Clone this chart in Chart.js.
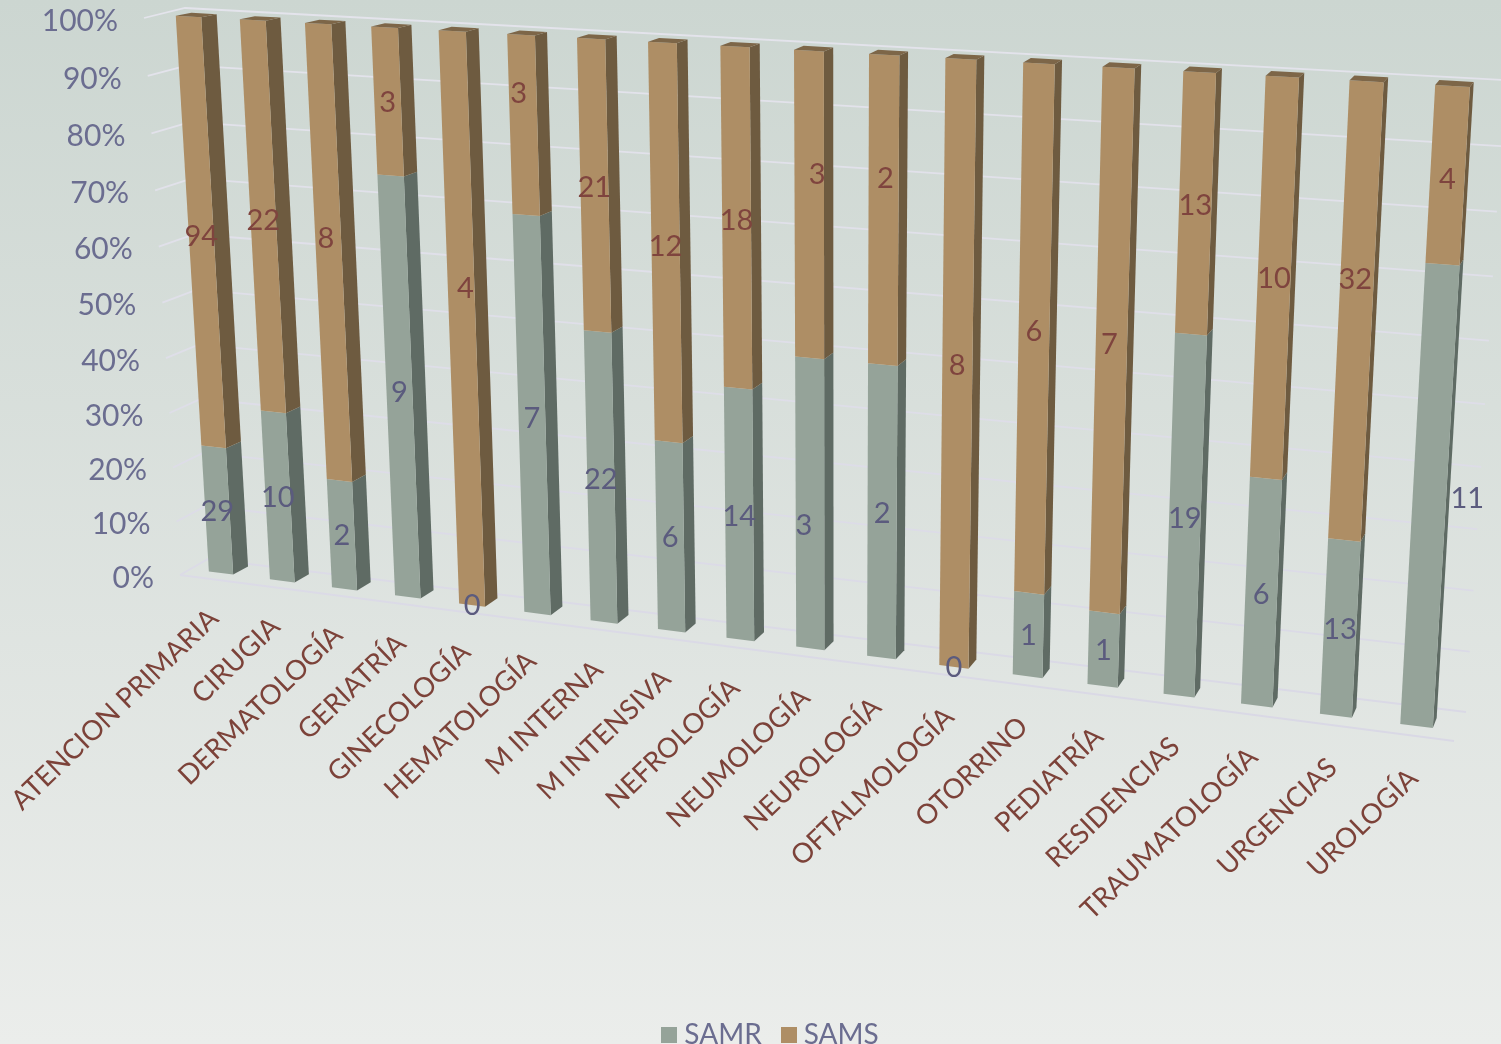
<!DOCTYPE html>
<html>
<head>
<meta charset="utf-8">
<style>
    html, body { margin: 0; padding: 0; background: #e8ebe9; }
    canvas { display: block; }
</style>
<script src="https://cdn.jsdelivr.net/npm/chart.js@4"></script>
</head>
<body>
<canvas id="canvas" width="1501" height="1044"></canvas>
<script>
const categories = ['ATENCION PRIMARIA', 'CIRUGIA', 'DERMATOLOGÍA', 'GERIATRÍA', 'GINECOLOGÍA', 'HEMATOLOGÍA',
    'M INTERNA', 'M INTENSIVA', 'NEFROLOGÍA', 'NEUMOLOGÍA', 'NEUROLOGÍA', 'OFTALMOLOGÍA',
    'OTORRINO', 'PEDIATRÍA', 'RESIDENCIAS', 'TRAUMATOLOGÍA', 'URGENCIAS', 'UROLOGÍA'];
const samr = [29, 10, 2, 9, 0, 7, 22, 6, 14, 3, 2, 0, 1, 1, 19, 6, 13, 11];
const sams = [94, 22, 8, 3, 4, 3, 21, 12, 18, 3, 2, 8, 6, 7, 13, 10, 32, 4];

// share of each bar, the chart is a 100% stack
const samrPct = samr.map((v, i) => v / (v + sams[i]) * 100);
const samsPct = sams.map((v, i) => v / (v + samr[i]) * 100);

const fontName = 'Lato';
const axisColor = '#6b6d90';
const catColor = '#7c4239';
const faces = [
    { front: '#95a399', side: '#5f6b64', top: '#6f7c74', label: '#5b5b7e' },
    { front: '#ae8e65', side: '#6e5b40', top: '#7d6648', label: '#7f443e' }
];

// corners of the projected planes: top left, top right, bottom right, bottom left
const frontPlane = [[188.5, 16.5], [1452.5, 86], [1416.5, 726], [221, 573]];
const rearPlane = [[204, 13.5], [1456.5, 81], [1420.5, 716], [236, 565]];
const backWall = [[185, 8], [1505, 80], [1466, 712], [208, 559]];
const axisEdge = [[144, 18], [180, 575]];
const floorFront = [[180, 575], [1454, 741]];

// value labels that were dragged away from the segment centre in the original
const labelMoves = [
    { 3: [0, 1], 9: [-6, 20], 17: [38, -3] },
    { 2: [-3, -19], 4: [3, -38], 5: [-5, -33], 9: [8, -33], 10: [2, -34], 11: [0, -7], 12: [0, -4], 13: [-2, -3], 15: [0, -4], 16: [0, -37], 17: [0, 3] }
];

function quadMap(q) {
    const [p0, p1, p2, p3] = q;
    const dx1 = p1[0] - p2[0], dx2 = p3[0] - p2[0], sx = p0[0] - p1[0] + p2[0] - p3[0];
    const dy1 = p1[1] - p2[1], dy2 = p3[1] - p2[1], sy = p0[1] - p1[1] + p2[1] - p3[1];
    const den = dx1 * dy2 - dx2 * dy1;
    const g = (sx * dy2 - dx2 * sy) / den;
    const h = (dx1 * sy - sx * dy1) / den;
    const a = p1[0] - p0[0] + g * p1[0], b = p3[0] - p0[0] + h * p3[0];
    const d = p1[1] - p0[1] + g * p1[1], e = p3[1] - p0[1] + h * p3[1];
    return (u, v) => {
        const w = g * u + h * v + 1;
        return [(a * u + b * v + p0[0]) / w, (d * u + e * v + p0[1]) / w];
    };
}

const toFront = quadMap(frontPlane);
const toRear = quadMap(rearPlane);
const toBack = quadMap(backWall);

// the axis edge follows the same height steps as the left side of the back wall
function toEdge(v) {
    const f = (toBack(0, v)[1] - backWall[0][1]) / (backWall[3][1] - backWall[0][1]);
    return [axisEdge[0][0] + (axisEdge[1][0] - axisEdge[0][0]) * f,
        axisEdge[0][1] + (axisEdge[1][1] - axisEdge[0][1]) * f];
}

function fillPoly(ctx, pts, color) {
    ctx.beginPath();
    pts.forEach((p, i) => i ? ctx.lineTo(p[0], p[1]) : ctx.moveTo(p[0], p[1]));
    ctx.closePath();
    ctx.fillStyle = color;
    ctx.fill();
}

// legend swatch, used as point style so the text sits close to it
function swatch(color) {
    const c = document.createElement('canvas');
    c.width = 16;
    c.height = 16;
    const g = c.getContext('2d');
    g.fillStyle = color;
    g.fillRect(0, 0, 16, 16);
    return c;
}

const perspective = {
    id: 'perspective',
    beforeDraw(chart) {
        const ctx = chart.ctx;
        const grad = ctx.createLinearGradient(0, 0, 0, chart.height);
        grad.addColorStop(0, '#ccd6d1');
        grad.addColorStop(1, '#ebedeb');
        ctx.fillStyle = grad;
        ctx.fillRect(0, 0, chart.width, chart.height);
    },
    beforeDatasetsDraw(chart) {
        const ctx = chart.ctx;
        const xs = chart.scales.x, ys = chart.scales.y;
        const x0 = xs.getPixelForValue(0), x1 = xs.getPixelForValue(categories.length - 1);
        const y100 = ys.getPixelForValue(100), y0 = ys.getPixelForValue(0);
        const U = x => (x - x0) / (x1 - x0);
        const V = y => (y - y100) / (y0 - y100);

        // walls
        const lineGrad = ctx.createLinearGradient(0, 0, 0, 750);
        lineGrad.addColorStop(0, '#e4e4ec');
        lineGrad.addColorStop(1, '#d9d8e5');
        ctx.save();
        ctx.strokeStyle = lineGrad;
        ctx.lineWidth = 1.8;
        ys.ticks.forEach(t => {
            const v = V(ys.getPixelForValue(t.value));
            const a = toEdge(v), b = toBack(0, v), c = toBack(1, v);
            ctx.beginPath();
            ctx.moveTo(a[0], a[1]);
            ctx.lineTo(b[0], b[1]);
            ctx.lineTo(c[0], c[1]);
            ctx.stroke();
        });
        ctx.beginPath();
        ctx.moveTo(floorFront[0][0], floorFront[0][1]);
        ctx.lineTo(floorFront[1][0], floorFront[1][1]);
        ctx.stroke();
        ctx.restore();

        // bars, side then front so the shared edge stays clean
        categories.forEach((c, i) => {
            chart.data.datasets.forEach((ds, d) => {
                const el = chart.getDatasetMeta(d).data[i];
                if (!ds.data[i]) return;
                const l = U(el.x - el.width / 2), r = U(el.x + el.width / 2);
                const t = V(el.y), b = V(el.base);
                fillPoly(ctx, [toFront(r, t), toRear(r, t), toRear(r, b), toFront(r, b)], faces[d].side);
                fillPoly(ctx, [toFront(l, t), toFront(r, t), toFront(r, b), toFront(l, b)], faces[d].front);
                if (el.y <= y100 + 0.5) {
                    fillPoly(ctx, [toFront(l, t), toFront(r, t), toRear(r, t), toRear(l, t)], faces[d].top);
                }
            });
        });

        // value labels in the middle of every segment
        ctx.save();
        ctx.font = '29px ' + fontName;
        ctx.textAlign = 'center';
        ctx.textBaseline = 'middle';
        chart.data.datasets.forEach((ds, d) => {
            chart.getDatasetMeta(d).data.forEach((el, i) => {
                const p = toFront(U(el.x), V((el.y + el.base) / 2));
                const move = labelMoves[d][i] || [0, 0];
                ctx.fillStyle = faces[d].label;
                ctx.fillText(ds.counts[i], p[0] + move[0], p[1] + move[1] + 1);
            });
        });
        ctx.restore();

        // value axis labels along the axis edge
        ctx.save();
        ctx.font = '30px ' + fontName;
        ctx.fillStyle = axisColor;
        ctx.textAlign = 'right';
        ctx.textBaseline = 'middle';
        ys.ticks.forEach(t => {
            const p = toEdge(V(ys.getPixelForValue(t.value)));
            ctx.fillText(t.label, p[0] - 26, p[1] + 3);
        });
        ctx.restore();

        // category labels under the floor
        ctx.save();
        ctx.font = '27.5px ' + fontName;
        ctx.fillStyle = catColor;
        ctx.textAlign = 'right';
        ctx.textBaseline = 'middle';
        categories.forEach((c, i) => {
            const u = U(xs.getPixelForValue(i));
            const p = toFront(u, 1);
            ctx.save();
            ctx.translate(p[0] - 7 + 4 * u, p[1] + 41 + 7 * u);
            ctx.rotate(-44 * Math.PI / 180);
            ctx.fillText(c, 0, 0);
            ctx.restore();
        });
        ctx.restore();
        return false;
    }
};

const ctx = document.getElementById('canvas').getContext('2d');
const myChart = new Chart(ctx, {
    type: 'bar',
    data: {
        labels: categories,
        datasets: [
            { label: 'SAMR', data: samrPct, counts: samr, backgroundColor: faces[0].front, pointStyle: swatch(faces[0].front) },
            { label: 'SAMS', data: samsPct, counts: sams, backgroundColor: faces[1].front, pointStyle: swatch(faces[1].front) }
        ]
    },
    options: {
        responsive: false,
        animation: false,
        barPercentage: 0.4,
        categoryPercentage: 1,
        layout: { padding: { left: 46, bottom: -15 } },
        scales: {
            x: { stacked: true, display: false },
            y: {
                stacked: true, display: false, min: 0, max: 100,
                ticks: { stepSize: 10, callback: v => v + '%' }
            }
        },
        plugins: {
            legend: {
                position: 'bottom',
                labels: {
                    usePointStyle: true,
                    boxWidth: 2, boxHeight: 16, padding: 26,
                    color: axisColor,
                    font: { family: fontName, size: 28 }
                }
            },
            tooltip: { enabled: false }
        }
    },
    plugins: [perspective]
});
</script>
</body>
</html>
